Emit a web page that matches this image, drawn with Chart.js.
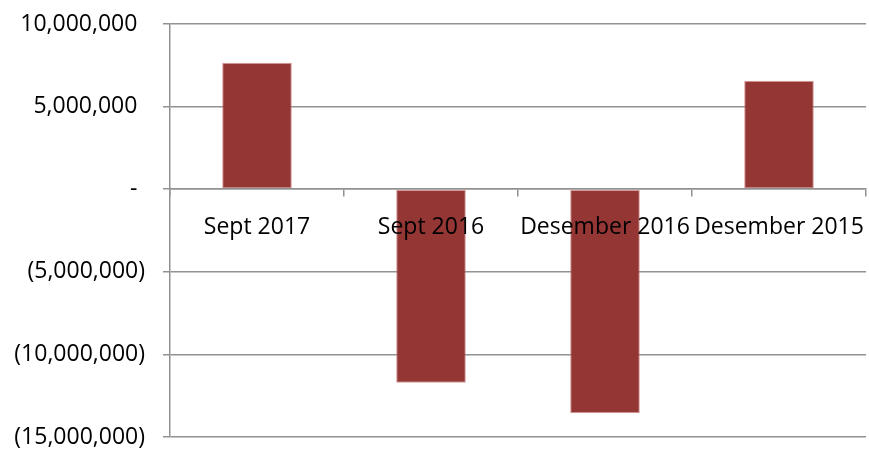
<!DOCTYPE html>
<html>
<head>
<meta charset="utf-8">
<script src="https://cdn.jsdelivr.net/npm/chart.js@4"></script>
<style>
html,body{margin:0;padding:0;background:#fff;}
#wrap{width:869px;height:449px;}
</style>
</head>
<body>
<div id="wrap"><canvas id="c" width="869" height="449"></canvas></div>
<script>
const categories = ["Sept 2017", "Sept 2016", "Desember 2016", "Desember 2015"];
const values = [7650000, -11720000, -13560000, 6560000];
const yTicks = [-15000000, -10000000, -5000000, 0, 5000000, 10000000];

function fmt(v) {
  if (v === 0) return "-\u2004";
  const s = Math.abs(v).toLocaleString("en-US");
  return v < 0 ? "(" + s + ")" : s + "\u2004";
}

const FONT = "'Open Sans', sans-serif";
const GRID = "#929292";

function noPad(s) { s.paddingTop = 0; s.paddingBottom = 0; s.paddingLeft = 0; s.paddingRight = 0; }

new Chart(document.getElementById("c"), {
  type: "bar",
  data: {
    labels: categories,
    datasets: [{
      data: values,
      backgroundColor: "#943634",
      borderColor: "rgba(200,110,110,0.7)",
      borderWidth: 1,
      borderSkipped: false,
      barPercentage: 0.4,
      categoryPercentage: 1.0
    }]
  },
  options: {
    responsive: false,
    animation: false,
    layout: { padding: { left: 0, right: 3, top: 24, bottom: 12 } },
    plugins: { legend: { display: false }, tooltip: { enabled: false } },
    scales: {
      x: {
        position: { y: 0 },
        afterFit: (s) => { s.height = 0; noPad(s); },
        grid: { display: true, drawOnChartArea: false, drawTicks: true, tickLength: 7, color: GRID, lineWidth: 1.5, offset: true, z: 1 },
        border: { display: true, color: GRID, width: 1.5, z: 1 },
        ticks: {
          z: 2,
          autoSkip: false, maxRotation: 0, minRotation: 0,
          color: "#000", padding: 17,
          font: { family: FONT, size: 23 }
        }
      },
      y: {
        min: -15000000,
        max: 10000000,
        afterFit: (s) => { s.width = 170; noPad(s); },
        afterBuildTicks: (s) => { s.ticks = yTicks.map(v => ({ value: v })); },
        grid: { color: GRID, drawTicks: true, tickLength: 7, lineWidth: 1.5 },
        border: { display: true, color: GRID, width: 1.5 },
        ticks: {
          color: "#000", padding: 18,
          font: { family: FONT, size: 23 },
          callback: (v) => fmt(v)
        }
      }
    }
  }
});
</script>
</body>
</html>
